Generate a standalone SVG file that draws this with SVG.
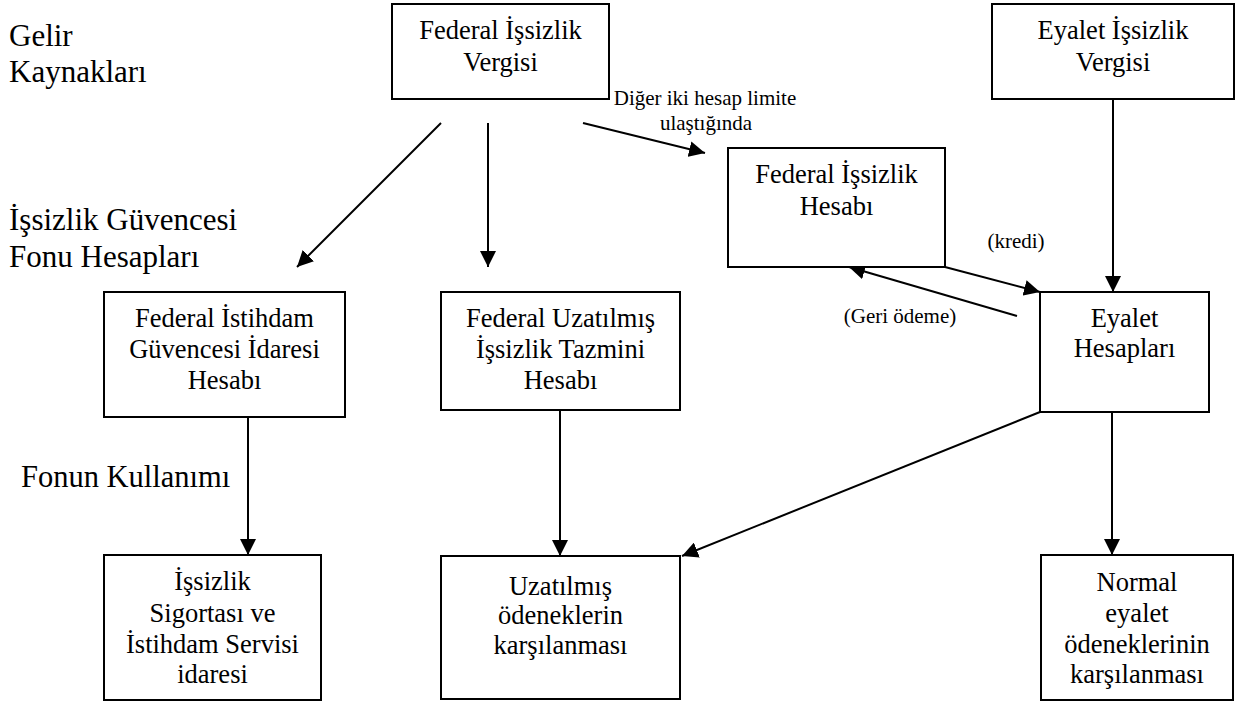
<svg xmlns="http://www.w3.org/2000/svg" width="1247" height="704" viewBox="0 0 1247 704">
<style>
  .box { fill: #fff; stroke: #000; stroke-width: 2; }
  text { font-family: "Liberation Serif", "Times New Roman", "DejaVu Serif", serif; fill: #000; }
  .t { font-size: 26.5px; text-anchor: middle; }
  .s { font-size: 21px; text-anchor: middle; }
  .h { font-size: 31px; }
  .c { stroke: #000; stroke-width: 2; fill: none; marker-end: url(#ah); }
</style>
<defs>
  <marker id="ah" markerUnits="userSpaceOnUse" markerWidth="16" markerHeight="16" refX="16" refY="8" orient="auto">
    <path d="M0,0 L16,8 L0,16 z" fill="#000"/>
  </marker>
</defs>
<rect width="1247" height="704" fill="#fff"/>

<g id="labels">
  <text class="h" x="9" y="46">Gelir</text>
  <text class="h" x="9" y="82">Kaynakları</text>
  <text class="h" x="9" y="230">İşsizlik Güvencesi</text>
  <text class="h" x="9" y="267">Fonu Hesapları</text>
  <text class="h" x="21" y="487" style="font-size:30.5px">Fonun Kullanımı</text>
</g>

<g id="connectors">
  <line class="c" x1="441" y1="123" x2="297" y2="267"/>
  <line class="c" x1="488" y1="123" x2="488" y2="267"/>
  <line class="c" x1="583" y1="123" x2="705" y2="153"/>
  <line class="c" x1="1113" y1="99" x2="1113" y2="292"/>
  <line class="c" x1="945" y1="267" x2="1040" y2="292"/>
  <line class="c" x1="1017" y1="316" x2="849" y2="267"/>
  <line class="c" x1="248" y1="417" x2="248" y2="555"/>
  <line class="c" x1="560" y1="410" x2="560" y2="556"/>
  <line class="c" x1="1040" y1="412" x2="682" y2="556"/>
  <line class="c" x1="1112" y1="412" x2="1112" y2="555"/>
  <text class="s" x="705" y="105">Diğer iki hesap limite</text>
  <text class="s" x="706" y="130">ulaştığında</text>
  <text class="s" x="1016" y="248">(kredi)</text>
  <text class="s" x="900" y="323">(Geri ödeme)</text>
</g>

<g id="federal-issizlik-vergisi">
  <rect class="box" x="392" y="4" width="217" height="95"/>
  <text class="t" x="500.5" y="39">Federal İşsizlik</text>
  <text class="t" x="500.5" y="71">Vergisi</text>
</g>

<g id="eyalet-issizlik-vergisi">
  <rect class="box" x="992" y="4" width="242" height="95"/>
  <text class="t" x="1113" y="39">Eyalet İşsizlik</text>
  <text class="t" x="1113" y="71">Vergisi</text>
</g>

<g id="federal-issizlik-hesabi">
  <rect class="box" x="728" y="148" width="217" height="119"/>
  <text class="t" x="836.5" y="183">Federal İşsizlik</text>
  <text class="t" x="836.5" y="215">Hesabı</text>
</g>

<g id="eyalet-hesaplari">
  <rect class="box" x="1040" y="292" width="169" height="120"/>
  <text class="t" x="1124.5" y="327">Eyalet</text>
  <text class="t" x="1124.5" y="357">Hesapları</text>
</g>

<g id="federal-istihdam">
  <rect class="box" x="104" y="292" width="241" height="125"/>
  <text class="t" x="224.5" y="327">Federal İstihdam</text>
  <text class="t" x="224.5" y="358">Güvencesi İdaresi</text>
  <text class="t" x="224.5" y="389">Hesabı</text>
</g>

<g id="federal-uzatilmis">
  <rect class="box" x="441" y="292" width="239" height="118"/>
  <text class="t" x="560.5" y="327">Federal Uzatılmış</text>
  <text class="t" x="560.5" y="358">İşsizlik Tazmini</text>
  <text class="t" x="560.5" y="389">Hesabı</text>
</g>

<g id="issizlik-sigortasi">
  <rect class="box" x="104" y="555" width="217" height="145"/>
  <text class="t" x="212.5" y="590">İşsizlik</text>
  <text class="t" x="212.5" y="622">Sigortası ve</text>
  <text class="t" x="212.5" y="653">İstihdam Servisi</text>
  <text class="t" x="212.5" y="683">idaresi</text>
</g>

<g id="uzatilmis-odenekler">
  <rect class="box" x="441" y="556" width="239" height="143"/>
  <text class="t" x="560.5" y="595">Uzatılmış</text>
  <text class="t" x="560.5" y="624">ödeneklerin</text>
  <text class="t" x="560.5" y="654">karşılanması</text>
</g>

<g id="normal-eyalet">
  <rect class="box" x="1041" y="555" width="192" height="145"/>
  <text class="t" x="1137" y="591">Normal</text>
  <text class="t" x="1137" y="622">eyalet</text>
  <text class="t" x="1137" y="653">ödeneklerinin</text>
  <text class="t" x="1137" y="683">karşılanması</text>
</g>
</svg>
